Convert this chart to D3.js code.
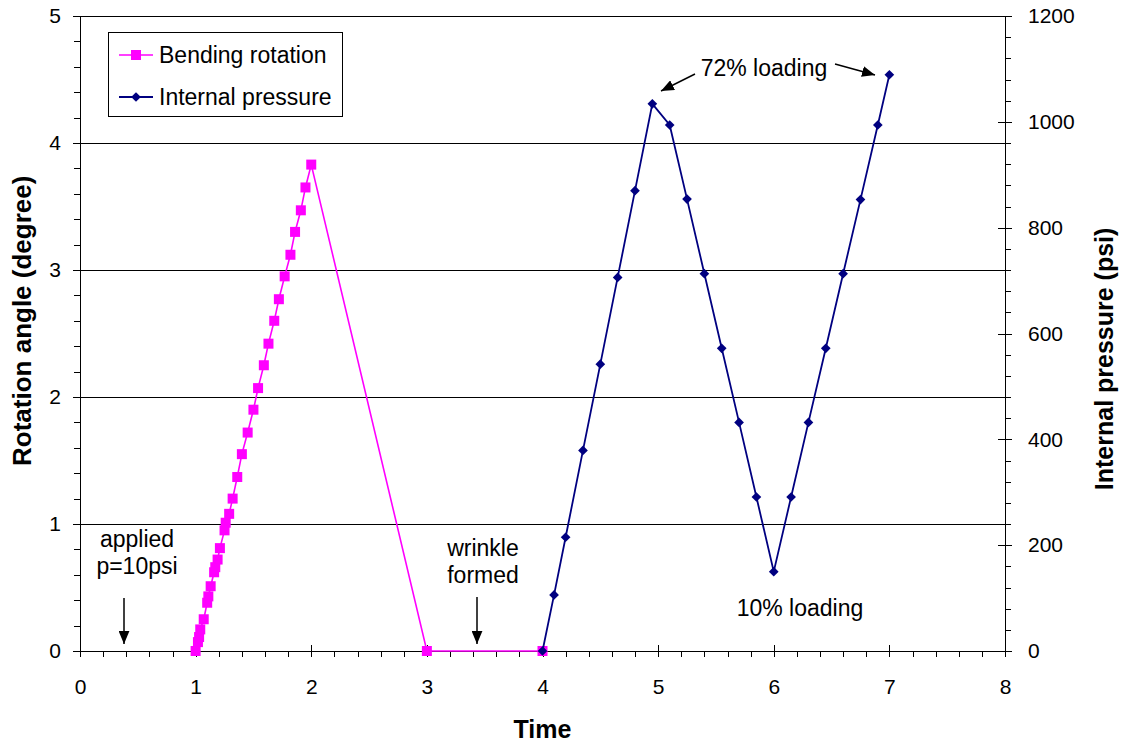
<!DOCTYPE html>
<html>
<head>
<meta charset="utf-8">
<script src="https://cdn.jsdelivr.net/npm/d3@7"></script>
<style>
  html, body { margin: 0; padding: 0; background: #fff; }
  svg { display: block; font-family: "Liberation Sans", Arial, sans-serif; }
</style>
</head>
<body>
<svg id="chart" width="1123" height="746"></svg>
<script>
// Bending rotation (left axis, degree) vs. time
const bendTime = [1.00, 1.02, 1.03, 1.04, 1.07, 1.10, 1.11, 1.13, 1.16, 1.17, 1.19, 1.21, 1.25, 1.26, 1.29, 1.32,
                  1.36, 1.40, 1.45, 1.50, 1.54, 1.59, 1.63, 1.68, 1.72, 1.77, 1.82, 1.86, 1.91, 1.95, 2.00, 3.00, 4.00];
const bendRotation = [0.00, 0.07, 0.11, 0.17, 0.25, 0.38, 0.43, 0.51, 0.62, 0.66, 0.72, 0.81, 0.95, 1.01, 1.08, 1.20,
                      1.37, 1.55, 1.72, 1.90, 2.07, 2.25, 2.42, 2.60, 2.77, 2.95, 3.12, 3.30, 3.47, 3.65, 3.83, 0.00, 0.00];

// Internal pressure (right axis, psi) vs. time
const pressTime = [4.00, 4.10, 4.20, 4.35, 4.50, 4.65, 4.80, 4.95, 5.10, 5.25, 5.40, 5.55, 5.70, 5.85, 6.00,
                   6.15, 6.30, 6.45, 6.60, 6.75, 6.90, 7.00];
const pressValue = [0, 106, 215, 379, 542, 706, 870, 1034, 994, 854, 713, 572, 432, 291, 150,
                    291, 432, 572, 713, 853, 994, 1089];

// Axis ticks
const timeTicks = [0, 1, 2, 3, 4, 5, 6, 7, 8];
const angleTicks = [0, 1, 2, 3, 4, 5];
const pressureTicks = [0, 200, 400, 600, 800, 1000, 1200];

const seriesNames = ["Bending rotation", "Internal pressure"];
const colorBend = "#FF00FF";
const colorPress = "#000080";

const svg = d3.select("#chart");

const x = d3.scaleLinear().domain([0, 8]).range([80, 1005]);
const yL = d3.scaleLinear().domain([0, 5]).range([651, 16]);
const yR = d3.scaleLinear().domain([0, 1200]).range([651, 16]);

// Horizontal gridlines at the major left-axis ticks
svg.append("g")
  .selectAll("line")
  .data(angleTicks.filter(d => d > 0))
  .join("line")
  .attr("x1", x(0)).attr("x2", x(8))
  .attr("y1", d => yL(d)).attr("y2", d => yL(d))
  .attr("stroke", "#000").attr("stroke-width", 1)
  .attr("shape-rendering", "crispEdges");

// Minor tick helper
function minorValues(lo, hi, step) {
  const out = [];
  for (let v = lo; v <= hi + 1e-9; v += step) out.push(+v.toFixed(6));
  return out;
}

const tickFont = 21;
const intFmt = d3.format("d");

// X axis: minor ticks outside, major ticks crossing
const xAxis = svg.append("g").attr("transform", `translate(0,${yL(0)})`);
xAxis.call(d3.axisBottom(x).tickValues(minorValues(0, 8, 0.2)).tickSize(6).tickFormat(""))
  .call(g => g.select(".domain").remove());
xAxis.append("g").call(d3.axisBottom(x).tickValues(timeTicks).tickFormat(intFmt).tickSize(6).tickSizeOuter(0).tickPadding(22))
  .call(g => g.selectAll(".tick line").attr("y1", -6))
  .call(g => g.selectAll(".tick text").attr("font-size", tickFont).attr("fill", "#000")
    .attr("font-family", "Liberation Sans, Arial, sans-serif"));
xAxis.selectAll("line, path").attr("stroke", "#000").attr("shape-rendering", "crispEdges");
xAxis.select("path.domain").attr("stroke-width", 1.5);

// Left axis
const lAxis = svg.append("g").attr("transform", `translate(${x(0)},0)`);
lAxis.call(d3.axisLeft(yL).tickValues(minorValues(0, 5, 0.2)).tickSize(6).tickFormat(""))
  .call(g => g.select(".domain").remove());
lAxis.append("g").call(d3.axisLeft(yL).tickValues(angleTicks).tickFormat(intFmt).tickSize(7).tickSizeOuter(0).tickPadding(12))
  .call(g => g.selectAll(".tick line").attr("x1", 7))
  .call(g => g.selectAll(".tick text").attr("font-size", tickFont).attr("fill", "#000")
    .attr("font-family", "Liberation Sans, Arial, sans-serif"));
lAxis.selectAll("line, path").attr("stroke", "#000").attr("shape-rendering", "crispEdges");

// Right axis
const rAxis = svg.append("g").attr("transform", `translate(${x(8)},0)`);
rAxis.call(d3.axisRight(yR).tickValues(minorValues(0, 1200, 40)).tickSize(6).tickFormat(""))
  .call(g => g.select(".domain").remove());
rAxis.append("g").call(d3.axisRight(yR).tickValues(pressureTicks).tickFormat(intFmt).tickSize(7).tickSizeOuter(0).tickPadding(16))
  .call(g => g.selectAll(".tick line").attr("x1", -7))
  .call(g => g.selectAll(".tick text").attr("font-size", tickFont).attr("fill", "#000")
    .attr("font-family", "Liberation Sans, Arial, sans-serif"));
rAxis.selectAll("line, path").attr("stroke", "#000").attr("shape-rendering", "crispEdges");

// Axis titles
svg.append("text")
  .attr("x", x(4)).attr("y", 738)
  .attr("text-anchor", "middle").attr("font-weight", "bold").attr("font-size", 25)
  .text("Time");
svg.append("text")
  .attr("transform", `translate(31,${yL(2.6)}) rotate(-90)`)
  .attr("text-anchor", "middle").attr("font-weight", "bold").attr("font-size", 26)
  .text("Rotation angle (degree)");
svg.append("text")
  .attr("transform", `translate(1113,${yL(2.3)}) rotate(-90)`)
  .attr("text-anchor", "middle").attr("font-weight", "bold").attr("font-size", 25)
  .text("Internal pressure (psi)");

// Series
const bendData = bendTime.map((t, i) => ({ t, v: bendRotation[i] }));
const pressData = pressTime.map((t, i) => ({ t, v: pressValue[i] }));

const bendLine = d3.line().x(d => x(d.t)).y(d => yL(d.v));
const pressLine = d3.line().x(d => x(d.t)).y(d => yR(d.v));

svg.append("path").datum(bendData)
  .attr("d", bendLine).attr("fill", "none")
  .attr("stroke", colorBend).attr("stroke-width", 1.6);
svg.append("g").selectAll("rect").data(bendData).join("rect")
  .attr("x", d => x(d.t) - 5).attr("y", d => yL(d.v) - 5)
  .attr("width", 10).attr("height", 10)
  .attr("fill", colorBend);

const diamond = d3.symbol().type(d3.symbolDiamond2).size(60);
svg.append("path").datum(pressData)
  .attr("d", pressLine).attr("fill", "none")
  .attr("stroke", colorPress).attr("stroke-width", 1.8);
svg.append("g").selectAll("path").data(pressData).join("path")
  .attr("transform", d => `translate(${x(d.t)},${yR(d.v)})`)
  .attr("d", diamond)
  .attr("fill", colorPress);

// Legend
const legend = svg.append("g");
legend.append("rect")
  .attr("x", 108.5).attr("y", 32.5).attr("width", 234).attr("height", 84)
  .attr("fill", "#fff").attr("stroke", "#000").attr("stroke-width", 1);
const legendRows = [
  { name: seriesNames[0], color: colorBend, y: 55, kind: "square" },
  { name: seriesNames[1], color: colorPress, y: 97, kind: "diamond" }
];
legendRows.forEach(r => {
  legend.append("line")
    .attr("x1", 119).attr("x2", 153).attr("y1", r.y).attr("y2", r.y)
    .attr("stroke", r.color).attr("stroke-width", r.kind === "square" ? 1.6 : 1.8);
  if (r.kind === "square") {
    legend.append("rect").attr("x", 131).attr("y", r.y - 5).attr("width", 10).attr("height", 10)
      .attr("fill", r.color);
  } else {
    legend.append("path").attr("transform", `translate(136,${r.y})`).attr("d", diamond)
      .attr("fill", r.color);
  }
  legend.append("text")
    .attr("x", 159).attr("y", r.y + 8)
    .attr("font-size", 23).attr("fill", "#000")
    .text(r.name);
});

// Annotations
const defs = svg.append("defs");
defs.append("marker")
  .attr("id", "arrowhead")
  .attr("viewBox", "0 0 12 10").attr("refX", 12).attr("refY", 5)
  .attr("markerWidth", 13).attr("markerHeight", 11)
  .attr("markerUnits", "userSpaceOnUse")
  .attr("orient", "auto")
  .append("path").attr("d", "M0,0 L12,5 L0,10 z").attr("fill", "#000");

function arrow(x1, y1, x2, y2) {
  svg.append("line")
    .attr("x1", x1).attr("y1", y1).attr("x2", x2).attr("y2", y2)
    .attr("stroke", "#000").attr("stroke-width", 1.5)
    .attr("marker-end", "url(#arrowhead)");
}

function note(lines, xPos, yPos, anchor) {
  const t = svg.append("text").attr("font-size", 23).attr("fill", "#000").attr("text-anchor", anchor);
  lines.forEach((s, i) => t.append("tspan").attr("x", xPos).attr("y", yPos + i * 27).text(s));
}

note(["72% loading"], 764, 76, "middle");
arrow(695, 74, 661, 91);
arrow(835, 64, 875, 75);

note(["10% loading"], 800, 616, "middle");

note(["applied", "p=10psi"], 137, 547, "middle");
arrow(124, 598, 124, 644);

note(["wrinkle", "formed"], 483, 556, "middle");
arrow(477, 597, 477, 644);
</script>
</body>
</html>
